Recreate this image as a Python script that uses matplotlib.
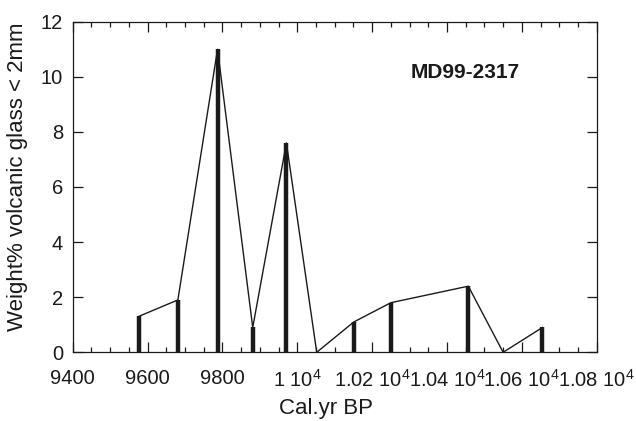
import matplotlib
matplotlib.use('Agg')
import matplotlib.pyplot as plt
from matplotlib.ticker import MultipleLocator, FuncFormatter

# Cal. yr BP and glass content
years = [9576, 9681, 9787, 9881, 9971, 10052, 10151, 10250, 10457, 10550, 10655]
glass = [1.3, 1.9, 11.0, 0.9, 7.6, 0.0, 1.1, 1.8, 2.4, 0.0, 0.9]
core_name = 'MD99-2317'

plt.rcParams['font.family'] = ['Liberation Sans', 'DejaVu Sans']
plt.rcParams['mathtext.default'] = 'regular'

fig = plt.figure(figsize=(6.36, 4.21), dpi=100)
ax = fig.add_axes([0.1143, 0.1632, 0.8239, 0.7853])

# thin connecting line + thick sticks
ax.plot(years, glass, color='#1a1a1a', lw=1.0)
ax.vlines([y for y, g in zip(years, glass) if g > 0],
          0, [g for g in glass if g > 0], color='#1a1a1a', lw=3.2)

ax.set_xlim(9400, 10800)
ax.set_ylim(0, 12)


def kg_fmt(v, pos):
    # KaleidaGraph style labels: 1.02 10^4
    if v < 10000:
        return '%d' % v
    m = v / 10000.0
    s = ('%g' % round(m, 2))
    return s + r' 10$^{4}$'


ax.xaxis.set_major_locator(MultipleLocator(200))
ax.xaxis.set_minor_locator(MultipleLocator(50))
ax.xaxis.set_major_formatter(FuncFormatter(kg_fmt))
ax.yaxis.set_major_locator(MultipleLocator(2))

ax.tick_params(which='both', direction='in', top=True, right=True,
               labelsize=14.5, width=0.9, colors='#1a1a1a')
ax.tick_params(which='major', length=7)
ax.tick_params(which='minor', length=3.5)
ax.tick_params(axis='x', which='major', pad=12)
ax.tick_params(axis='y', which='major', pad=7)
for sp in ax.spines.values():
    sp.set_linewidth(0.9)
    sp.set_color('#1a1a1a')

ax.set_xlabel('Cal.yr BP', fontsize=16, color='#1a1a1a')
ax.set_ylabel('Weight% volcanic glass < 2mm', fontsize=16, color='#1a1a1a')
ax.xaxis.set_label_coords(0.483, -0.138)
ax.yaxis.set_label_coords(-0.085, 0.53)

ax.text(10449, 10.14, core_name, fontsize=15, fontweight='bold',
        ha='center', va='center', color='#1a1a1a')

fig.savefig('out.png', dpi=100)
